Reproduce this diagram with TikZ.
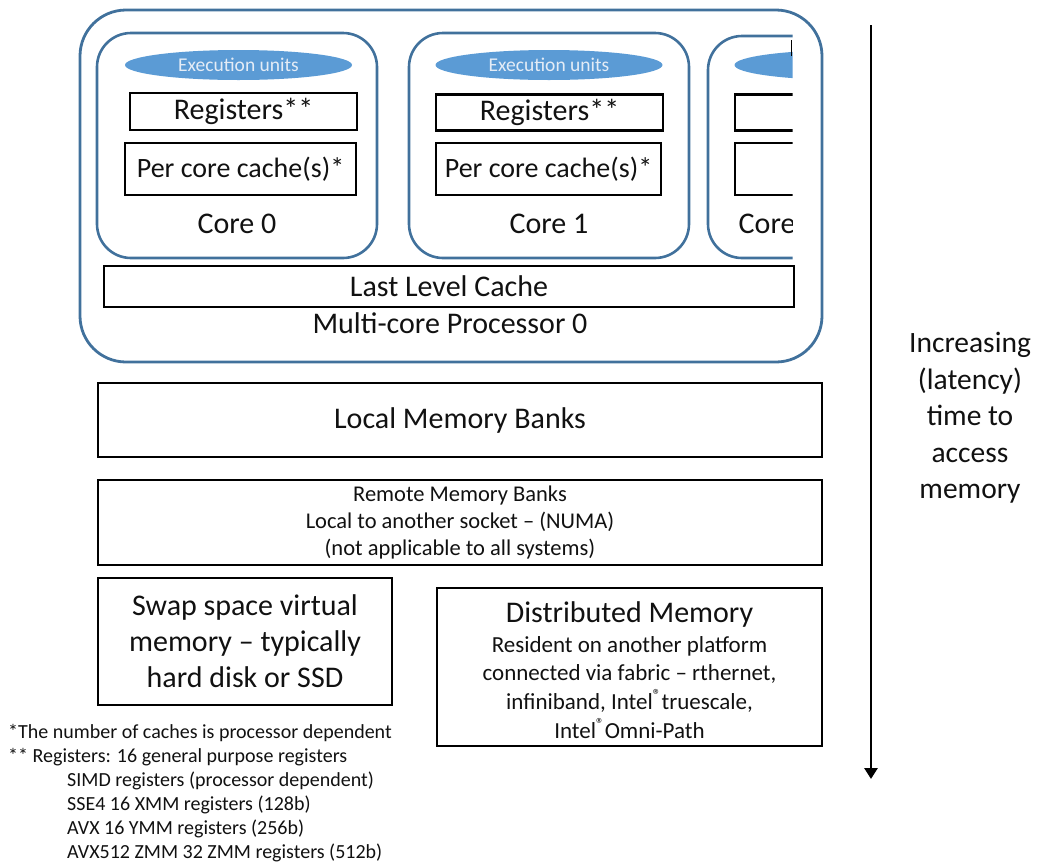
\documentclass[tikz,border=0pt]{standalone}
\usepackage{fontspec}
\setmainfont{Carlito}
\usetikzlibrary{shapes.geometric,arrows.meta}
\definecolor{bstroke}{HTML}{41719C}
\definecolor{bfill}{HTML}{5B9BD5}
\definecolor{etext}{HTML}{E4ECF6}
\definecolor{tgray}{HTML}{111111}
\newcommand{\fs}[1]{\fontsize{#1}{#1}\selectfont}
\tikzset{
  blk/.style={draw=black, line width=2.6pt, inner sep=0pt, text=tgray, align=center},
  corebox/.style={draw=bstroke, line width=2.6pt, rounded corners=34pt},
  exu/.style={ellipse, fill=bfill, draw=none, inner sep=0pt, minimum width=227pt, minimum height=30pt, text=etext, font=\fs{19.5}},
  lbl/.style={inner sep=0pt, text=tgray, align=center},
}
\begin{document}
\begin{tikzpicture}[x=1pt,y=-1pt]
\useasboundingbox (0,0) rectangle (1037,863);
% processor
\draw[draw=bstroke, line width=2.8pt, rounded corners=46pt] (80,10) rectangle (822,362);
% core 0
\draw[corebox] (97,33) rectangle (377,258);
\node[exu] (exu0) at (238.5,65) {Execution units};
\node[blk, minimum width=227pt, minimum height=37pt, font=\fs{30}] (reg0) at (243.5,111.5) {Registers**};
\node[blk, minimum width=231pt, minimum height=52pt, font=\fs{28}] (pcc0) at (240.5,169) {Per core cache(s)*};
\node[lbl, font=\fs{30}] (core0) at (237,224) {Core 0};
% core 1
\draw[corebox] (409,33) rectangle (689,258);
\node[exu] (exu1) at (549,65) {Execution units};
\node[blk, minimum width=227pt, minimum height=36pt, font=\fs{30}] (reg1) at (549.5,112.5) {Registers**};
\node[blk, minimum width=225pt, minimum height=52pt, font=\fs{28}] (pcc1) at (548.5,169) {Per core cache(s)*};
\node[lbl, font=\fs{30}] (core1) at (549,224) {Core 1};
% core 2 (clipped)
\begin{scope}
\clip (690,20) rectangle (792.5,270);
\draw[corebox] (708,36) rectangle (988,258);
\node[exu] (exu2) at (848,65) {};
\node[blk, minimum width=227pt, minimum height=36pt] (reg2) at (848.5,112.5) {};
\node[blk, minimum width=225pt, minimum height=52pt] (pcc2) at (847.5,169) {};
\node[lbl, font=\fs{30}, anchor=west] (core2) at (738.5,224) {Core 2};
\end{scope}
\draw[line width=1pt] (791.5,40) -- (791.5,56);
% last level cache
\node[blk, minimum width=690pt, minimum height=41pt, font=\fs{30}] (llc) at (449,286.5) {Last Level Cache};
\node[lbl, font=\fs{30}] (mcp) at (450,323) {Multi-core Processor 0};
% memory banks
\node[blk, minimum width=724pt, minimum height=74pt, font=\fs{30}] (lmb) at (460,420) {Local Memory Banks};
\node[blk, minimum width=724pt, minimum height=85pt, font=\fs{22.5}] (rmb) at (460,522.5) {Remote Memory Banks\\[4.5pt]Local to another socket -- (NUMA)\\[4.5pt](not applicable to all systems)};
\node[blk, minimum width=294pt, minimum height=127pt, font=\fs{30}] (swap) at (245,641.5) {Swap space virtual\\[6pt]memory -- typically\\[6pt]hard disk or SSD};
\node[blk, minimum width=385pt, minimum height=158pt, align=center, font=\fs{23}] (dist) at (629.5,667) {};
\node[lbl, font=\fs{23}] (distt) at (629.5,670.5) {{\fs{30}Distributed Memory}\\[7pt]Resident on another platform\\[5pt]connected via fabric -- rthernet,\\[5pt]infiniband, Intel\textsuperscript{®}truescale,\\[5pt]Intel\textsuperscript{®}Omni-Path};
% footnotes
\node[lbl, anchor=north west, align=left, font=\fs{20}] (fn) at (8,724) {*The number of caches is processor dependent\\[4pt]** Registers: 16 general purpose registers\\[4pt]\hspace*{59pt}SIMD registers (processor dependent)\\[4pt]\hspace*{59pt}SSE4 16 XMM registers (128b)\\[4pt]\hspace*{59pt}AVX 16 YMM registers (256b)\\[4pt]\hspace*{59pt}AVX512 ZMM 32 ZMM registers (512b)};
% latency arrow
\coordinate (atop) at (871,25);
\coordinate (abot) at (871,779);
\draw[line width=2.8pt, -{Triangle[length=11pt,width=13pt]}] (atop) -- (abot);
\node[lbl, font=\fs{29.5}] (lat) at (970,418) {Increasing\\[7pt](latency)\\[7pt]time to\\[7pt]access\\[7pt]memory};
\end{tikzpicture}
\end{document}
